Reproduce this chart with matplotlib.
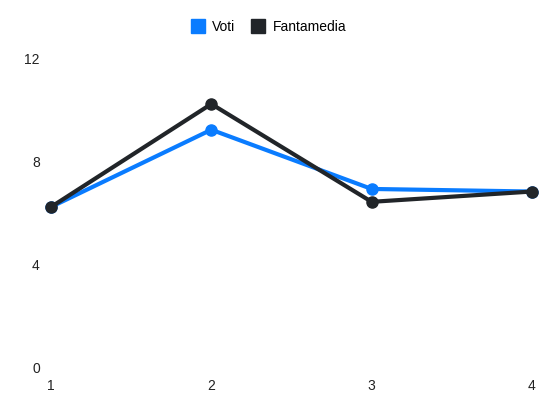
import matplotlib.pyplot as plt
from matplotlib.lines import Line2D

plt.rcParams['font.family'] = ['Liberation Sans', 'DejaVu Sans']

giornate = [1, 2, 3, 4]
voti = [6.25, 9.25, 6.95, 6.85]
fantamedia = [6.25, 10.25, 6.45, 6.85]
yticks = [0, 4, 8, 12]

blue = '#0a7cff'
dark = '#212529'

fig = plt.figure(figsize=(5.5, 4.12), dpi=100)
ax = fig.add_axes([0.0927, 0.107, 0.8745, 0.75])

ax.plot(giornate, voti, color=blue, lw=3, marker='o', ms=8, zorder=2, clip_on=False)
ax.plot(giornate, fantamedia, color=dark, lw=3, marker='o', ms=8, zorder=3, clip_on=False)

ax.set_xlim(1, 4)
ax.set_ylim(0, 12)
ax.set_xticks(giornate)
ax.set_yticks(yticks)
ax.tick_params(length=0, labelsize=10, colors='#222222')
ax.tick_params(axis='y', pad=8)
ax.tick_params(axis='x', pad=8)
for s in ax.spines.values():
    s.set_visible(False)

handles = [Line2D([], [], ls='', marker='s', ms=10, color=blue),
           Line2D([], [], ls='', marker='s', ms=10, color=dark)]
fig.legend(handles, ['Voti', 'Fantamedia'], loc='center', bbox_to_anchor=(0.488, 0.934),
           ncol=2, frameon=False, fontsize=10, handletextpad=0.55, columnspacing=1.1,
           handlelength=1.0)

fig.savefig('out.png', dpi=100)
